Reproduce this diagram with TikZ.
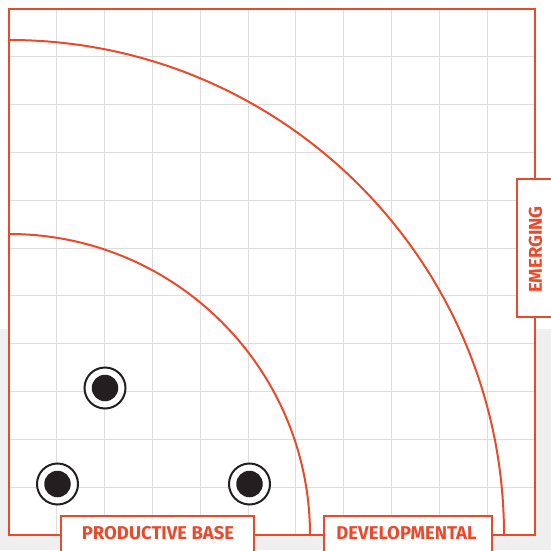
\documentclass[tikz,border=0pt]{standalone}
\usepackage{fontspec}
\setmainfont{Fira Sans}
\newfontfamily\labelfont{Fira Sans}
\definecolor{accent}{HTML}{E84A2B}
\definecolor{gridgray}{HTML}{DDDDDD}
\definecolor{bggray}{HTML}{EFEFEF}
\definecolor{dot}{HTML}{231F20}
\tikzset{
  redline/.style={draw=accent, line width=2pt},
  labelbox/.style={draw=accent, line width=2pt, fill=white},
  labeltext/.style={text=accent, font=\labelfont\bfseries\fontsize{18.5}{18.5}\selectfont, inner sep=0pt},
  ring/.style={draw=dot, line width=2pt, fill=white},
  disc/.style={fill=dot, draw=none}
}
\begin{document}
\begin{tikzpicture}[x=1pt,y=1pt]
\useasboundingbox (0,0) rectangle (551,550);
\clip (0,0) rectangle (551,550);
\fill[white] (0,0) rectangle (551,550);
\fill[bggray] (0,0) rectangle (551,221);
\fill[white] (9,15) rectangle (535,541);
% grid
\foreach \k in {1,...,10} {
  \draw[gridgray, line width=1pt] ({9+\k*526/11},15) -- ({9+\k*526/11},541);
  \draw[gridgray, line width=1pt] (9,{15+\k*526/11}) -- (535,{15+\k*526/11});
}
% arcs
\coordinate (origin) at (9,15);
\draw[redline] (9,510) arc[start angle=90, end angle=0, radius=495];
\draw[redline] (9,316) arc[start angle=90, end angle=0, radius=301];
% square
\draw[redline] (9,15) rectangle (535,541);
% markers
\foreach \n/\x/\y in {m1/105/162, m2/57.5/66, m3/249.5/66} {
  \node[ring, circle, minimum size=41pt, inner sep=0pt] (\n) at (\x,\y) {};
  \node[disc, circle, minimum size=26.5pt, inner sep=0pt] at (\n.center) {};
}
% label boxes
\draw[labelbox] (61,-10) rectangle (254,34);
\node[labeltext] (prod) at (158,16.5) {PRODUCTIVE BASE};
\draw[labelbox] (324,-10) rectangle (492,34);
\node[labeltext] (dev) at (406.5,16.5) {DEVELOPMENTAL};
\draw[labelbox] (517,233) rectangle (565,371);
\node[labeltext, rotate=90] (emg) at (535.5,300.5) {EMERGING};
\end{tikzpicture}
\end{document}
